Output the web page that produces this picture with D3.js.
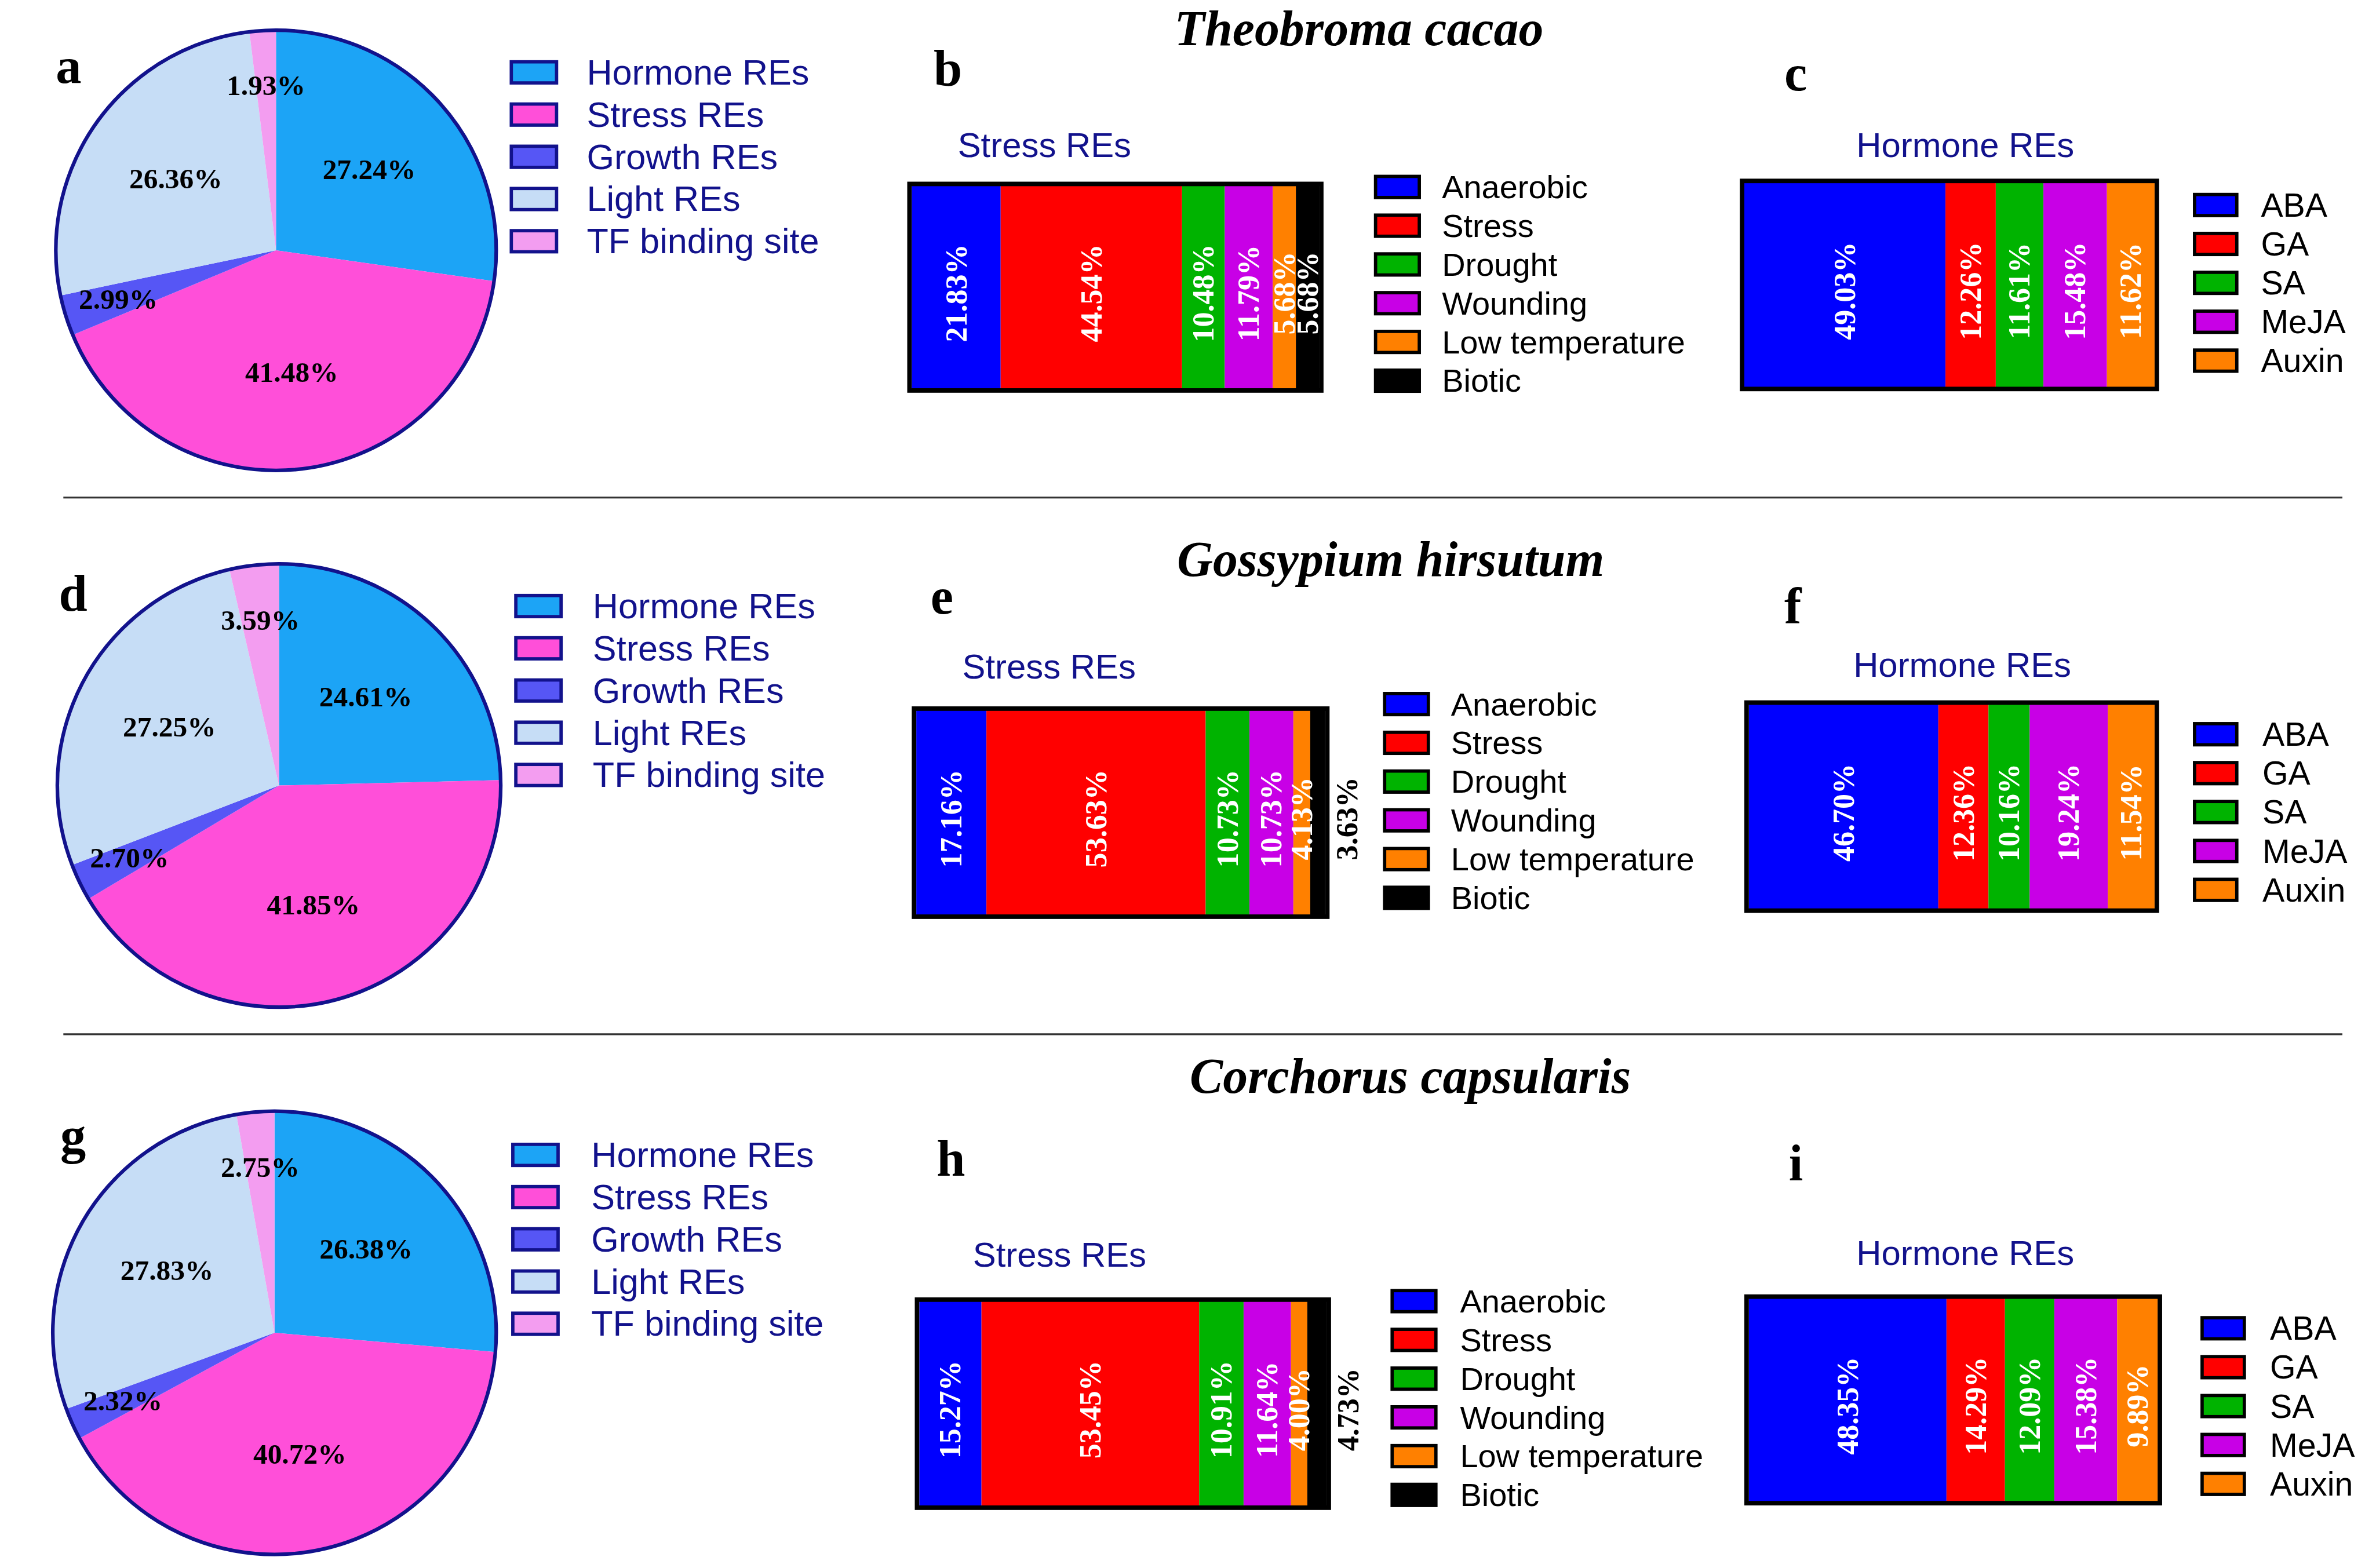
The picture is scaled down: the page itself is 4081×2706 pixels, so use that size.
<!DOCTYPE html>
<html lang="en">
<head>
<meta charset="UTF-8">
<title>Regulatory elements in three species</title>
<script src="https://d3js.org/d3.v7.min.js"></script>
<style>
  html, body { margin: 0; padding: 0; background: #fff; }
  svg { display: block; }
  .sans { font-family: "Liberation Sans", Arial, sans-serif; }
  .serif { font-family: "Liberation Serif", "Times New Roman", serif; }
</style>
</head>
<body>
<svg id="chart"></svg>
<script>
// ---- data ----
const species = ["Theobroma cacao", "Gossypium hirsutum", "Corchorus capsularis"];
const panelLetters = [["a", "b", "c"], ["d", "e", "f"], ["g", "h", "i"]];

const pieCategories = ["Hormone REs", "Stress REs", "Growth REs", "Light REs", "TF binding site"];
const pieColors = ["#1ca4f6", "#ff4fd9", "#5656f5", "#c6ddf6", "#f39df0"];
const pieCacao  = [27.24, 41.48, 2.99, 26.36, 1.93];
const pieCotton = [24.61, 41.85, 2.70, 27.25, 3.59];
const pieJute   = [26.38, 40.72, 2.32, 27.83, 2.75];

const stressCategories = ["Anaerobic", "Stress", "Drought", "Wounding", "Low temperature", "Biotic"];
const stressColors = ["#0000ff", "#ff0000", "#00b300", "#c800e6", "#ff8000", "#000000"];
const stressCacao  = [21.83, 44.54, 10.48, 11.79, 5.68, 5.68];
const stressCotton = [17.16, 53.63, 10.73, 10.73, 4.13, 3.63];
const stressJute   = [15.27, 53.45, 10.91, 11.64, 4.00, 4.73];

const hormoneCategories = ["ABA", "GA", "SA", "MeJA", "Auxin"];
const hormoneColors = ["#0000ff", "#ff0000", "#00b300", "#c800e6", "#ff8000"];
const hormoneCacao  = [49.03, 12.26, 11.61, 15.48, 11.62];
const hormoneCotton = [46.70, 12.36, 10.16, 19.24, 11.54];
const hormoneJute   = [48.35, 14.29, 12.09, 15.38, 9.89];

const pieSeries = [pieCacao, pieCotton, pieJute];
const stressSeries = [stressCacao, stressCotton, stressJute];
const hormoneSeries = [hormoneCacao, hormoneCotton, hormoneJute];

// ---- layout (design units, scaled by viewBox) ----
const W = 1568, H = 1040;
const rows = [
  { title: [901, 30], letters: [[37, 55], [619, 57], [1183, 60]],
    pie: { cx: 183, cy: 166, r: 146 }, pieLeg: { x: 339, y: 41, tx: 389 },
    sBar: { x0: 603, x1: 876, y0: 122, y1: 259 }, sTitle: [635, 104], sLeg: { x: 912, y: 117, tx: 956 },
    hBar: { x0: 1155, x1: 1430, y0: 120, y1: 258 }, hTitle: [1303, 104], hLeg: { x: 1455, y: 129, tx: 1499 } },
  { title: [922, 382], letters: [[39, 405], [617, 407], [1183, 413]],
    pie: { cx: 185, cy: 521, r: 147 }, pieLeg: { x: 342, y: 395, tx: 393 },
    sBar: { x0: 606, x1: 880, y0: 470, y1: 608 }, sTitle: [638, 450], sLeg: { x: 918, y: 460, tx: 962 },
    hBar: { x0: 1158, x1: 1430, y0: 466, y1: 604 }, hTitle: [1301, 449], hLeg: { x: 1455, y: 480, tx: 1500 } },
  { title: [935, 725], letters: [[40, 765], [621, 780], [1186, 783]],
    pie: { cx: 182, cy: 884, r: 147 }, pieLeg: { x: 340, y: 759, tx: 392 },
    sBar: { x0: 608, x1: 881, y0: 862, y1: 1000 }, sTitle: [645, 840], sLeg: { x: 923, y: 856, tx: 968 },
    hBar: { x0: 1158, x1: 1432, y0: 860, y1: 997 }, hTitle: [1303, 839], hLeg: { x: 1460, y: 874, tx: 1505 } }
];
const dividers = [330, 686];
const navy = "#12128c";

const svg = d3.select("#chart")
  .attr("width", 4081).attr("height", 2706)
  .attr("viewBox", `0 0 ${W} ${H}`)
  .attr("preserveAspectRatio", "none");

svg.append("rect").attr("width", W).attr("height", H).attr("fill", "#fff");

svg.selectAll("line.divider")
  .data(dividers)
  .join("line")
  .attr("class", "divider")
  .attr("x1", 42).attr("x2", 1553)
  .attr("y1", d => d).attr("y2", d => d)
  .attr("stroke", "#333").attr("stroke-width", 1.2);

const pieColor = d3.scaleOrdinal(pieCategories, pieColors);
const stressColor = d3.scaleOrdinal(stressCategories, stressColors);
const hormoneColor = d3.scaleOrdinal(hormoneCategories, hormoneColors);

function drawPie(g, values, L) {
  const data = pieCategories.map((c, i) => ({ key: c, value: values[i] }));
  const arcs = d3.pie().sort(null).value(d => d.value)(data);
  const arc = d3.arc().innerRadius(0).outerRadius(L.r);
  const pg = g.append("g").attr("transform", `translate(${L.cx},${L.cy})`);
  pg.selectAll("path")
    .data(arcs)
    .join("path")
    .attr("d", arc)
    .attr("fill", d => pieColor(d.data.key));
  pg.append("circle").attr("r", L.r).attr("fill", "none")
    .attr("stroke", navy).attr("stroke-width", 2.4);
  // small slices get their label pushed further out
  pg.selectAll("text")
    .data(arcs)
    .join("text")
    .attr("class", "serif")
    .attr("transform", d => {
      const k = d.data.value < 5 ? 0.75 : 0.56;
      const a = d3.arc().innerRadius(L.r * k).outerRadius(L.r * k);
      return `translate(${a.centroid(d)})`;
    })
    .attr("text-anchor", "middle")
    .attr("dominant-baseline", "central")
    .attr("font-weight", "bold")
    .attr("font-size", 19)
    .attr("fill", "#000")
    .text(d => d.data.value.toFixed(2) + "%");
}

function drawLegend(g, cats, color, L, step, rw, rh, fs, stroke, textColor) {
  const lg = g.append("g");
  const row = lg.selectAll("g")
    .data(cats)
    .join("g")
    .attr("transform", (d, i) => `translate(0,${L.y + i * step})`);
  row.append("rect")
    .attr("x", L.x).attr("width", rw).attr("height", rh)
    .attr("fill", d => color(d))
    .attr("stroke", stroke).attr("stroke-width", 2.2);
  row.append("text")
    .attr("class", "sans")
    .attr("x", L.tx).attr("y", rh / 2)
    .attr("dominant-baseline", "central")
    .attr("font-size", fs)
    .attr("fill", textColor)
    .text(d => d);
}

function drawBar(g, cats, values, color, B) {
  const row = Object.fromEntries(cats.map((c, i) => [c, values[i]]));
  const series = d3.stack().keys(cats)([row]);
  const x = d3.scaleLinear().domain([0, 100]).range([B.x0 + 1.5, B.x1 - 1.5]);
  const yc = (B.y0 + B.y1) / 2;
  const outside = d => d.key === "Biotic" && d[0][1] - d[0][0] < 5;
  g.append("g").selectAll("rect")
    .data(series)
    .join("rect")
    .attr("x", d => x(d[0][0]))
    .attr("width", d => x(d[0][1]) - x(d[0][0]))
    .attr("y", B.y0).attr("height", B.y1 - B.y0)
    .attr("fill", d => color(d.key));
  g.append("rect")
    .attr("x", B.x0).attr("y", B.y0)
    .attr("width", B.x1 - B.x0).attr("height", B.y1 - B.y0)
    .attr("fill", "none").attr("stroke", "#000").attr("stroke-width", 3);
  g.append("g").selectAll("text")
    .data(series)
    .join("text")
    .attr("class", "serif")
    .attr("transform", d => {
      const cx = outside(d) ? B.x1 + 13 : (x(d[0][0]) + x(d[0][1])) / 2;
      return `translate(${cx},${yc + 4}) rotate(-90)`;
    })
    .attr("text-anchor", "middle")
    .attr("dominant-baseline", "central")
    .attr("font-weight", "bold")
    .attr("font-size", 20)
    .attr("fill", d => outside(d) ? "#000" : "#fff")
    .text(d => (d[0][1] - d[0][0]).toFixed(2) + "%");
}

rows.forEach((L, r) => {
  const g = svg.append("g");

  g.append("text")
    .attr("class", "serif")
    .attr("x", L.title[0]).attr("y", L.title[1])
    .attr("text-anchor", "middle")
    .attr("font-style", "italic").attr("font-weight", "bold")
    .attr("font-size", 33)
    .text(species[r]);

  g.selectAll("text.letter")
    .data(panelLetters[r])
    .join("text")
    .attr("class", "letter serif")
    .attr("x", (d, i) => L.letters[i][0]).attr("y", (d, i) => L.letters[i][1])
    .attr("font-weight", "bold").attr("font-size", 34)
    .text(d => d);

  drawPie(g, pieSeries[r], L.pie);
  drawLegend(g, pieCategories, pieColor, L.pieLeg, 28, 30, 14, 23.5, navy, navy);

  g.append("text").attr("class", "sans")
    .attr("x", L.sTitle[0]).attr("y", L.sTitle[1])
    .attr("font-size", 23).attr("fill", navy)
    .text("Stress REs");
  drawBar(g, stressCategories, stressSeries[r], stressColor, L.sBar);
  drawLegend(g, stressCategories, stressColor, L.sLeg, 25.7, 29, 14, 21.5, "#000", "#000");

  g.append("text").attr("class", "sans")
    .attr("x", L.hTitle[0]).attr("y", L.hTitle[1])
    .attr("text-anchor", "middle")
    .attr("font-size", 23).attr("fill", navy)
    .text("Hormone REs");
  drawBar(g, hormoneCategories, hormoneSeries[r], hormoneColor, L.hBar);
  drawLegend(g, hormoneCategories, hormoneColor, L.hLeg, 25.8, 28, 14, 22, "#000", "#000");
});
</script>
</body>
</html>
